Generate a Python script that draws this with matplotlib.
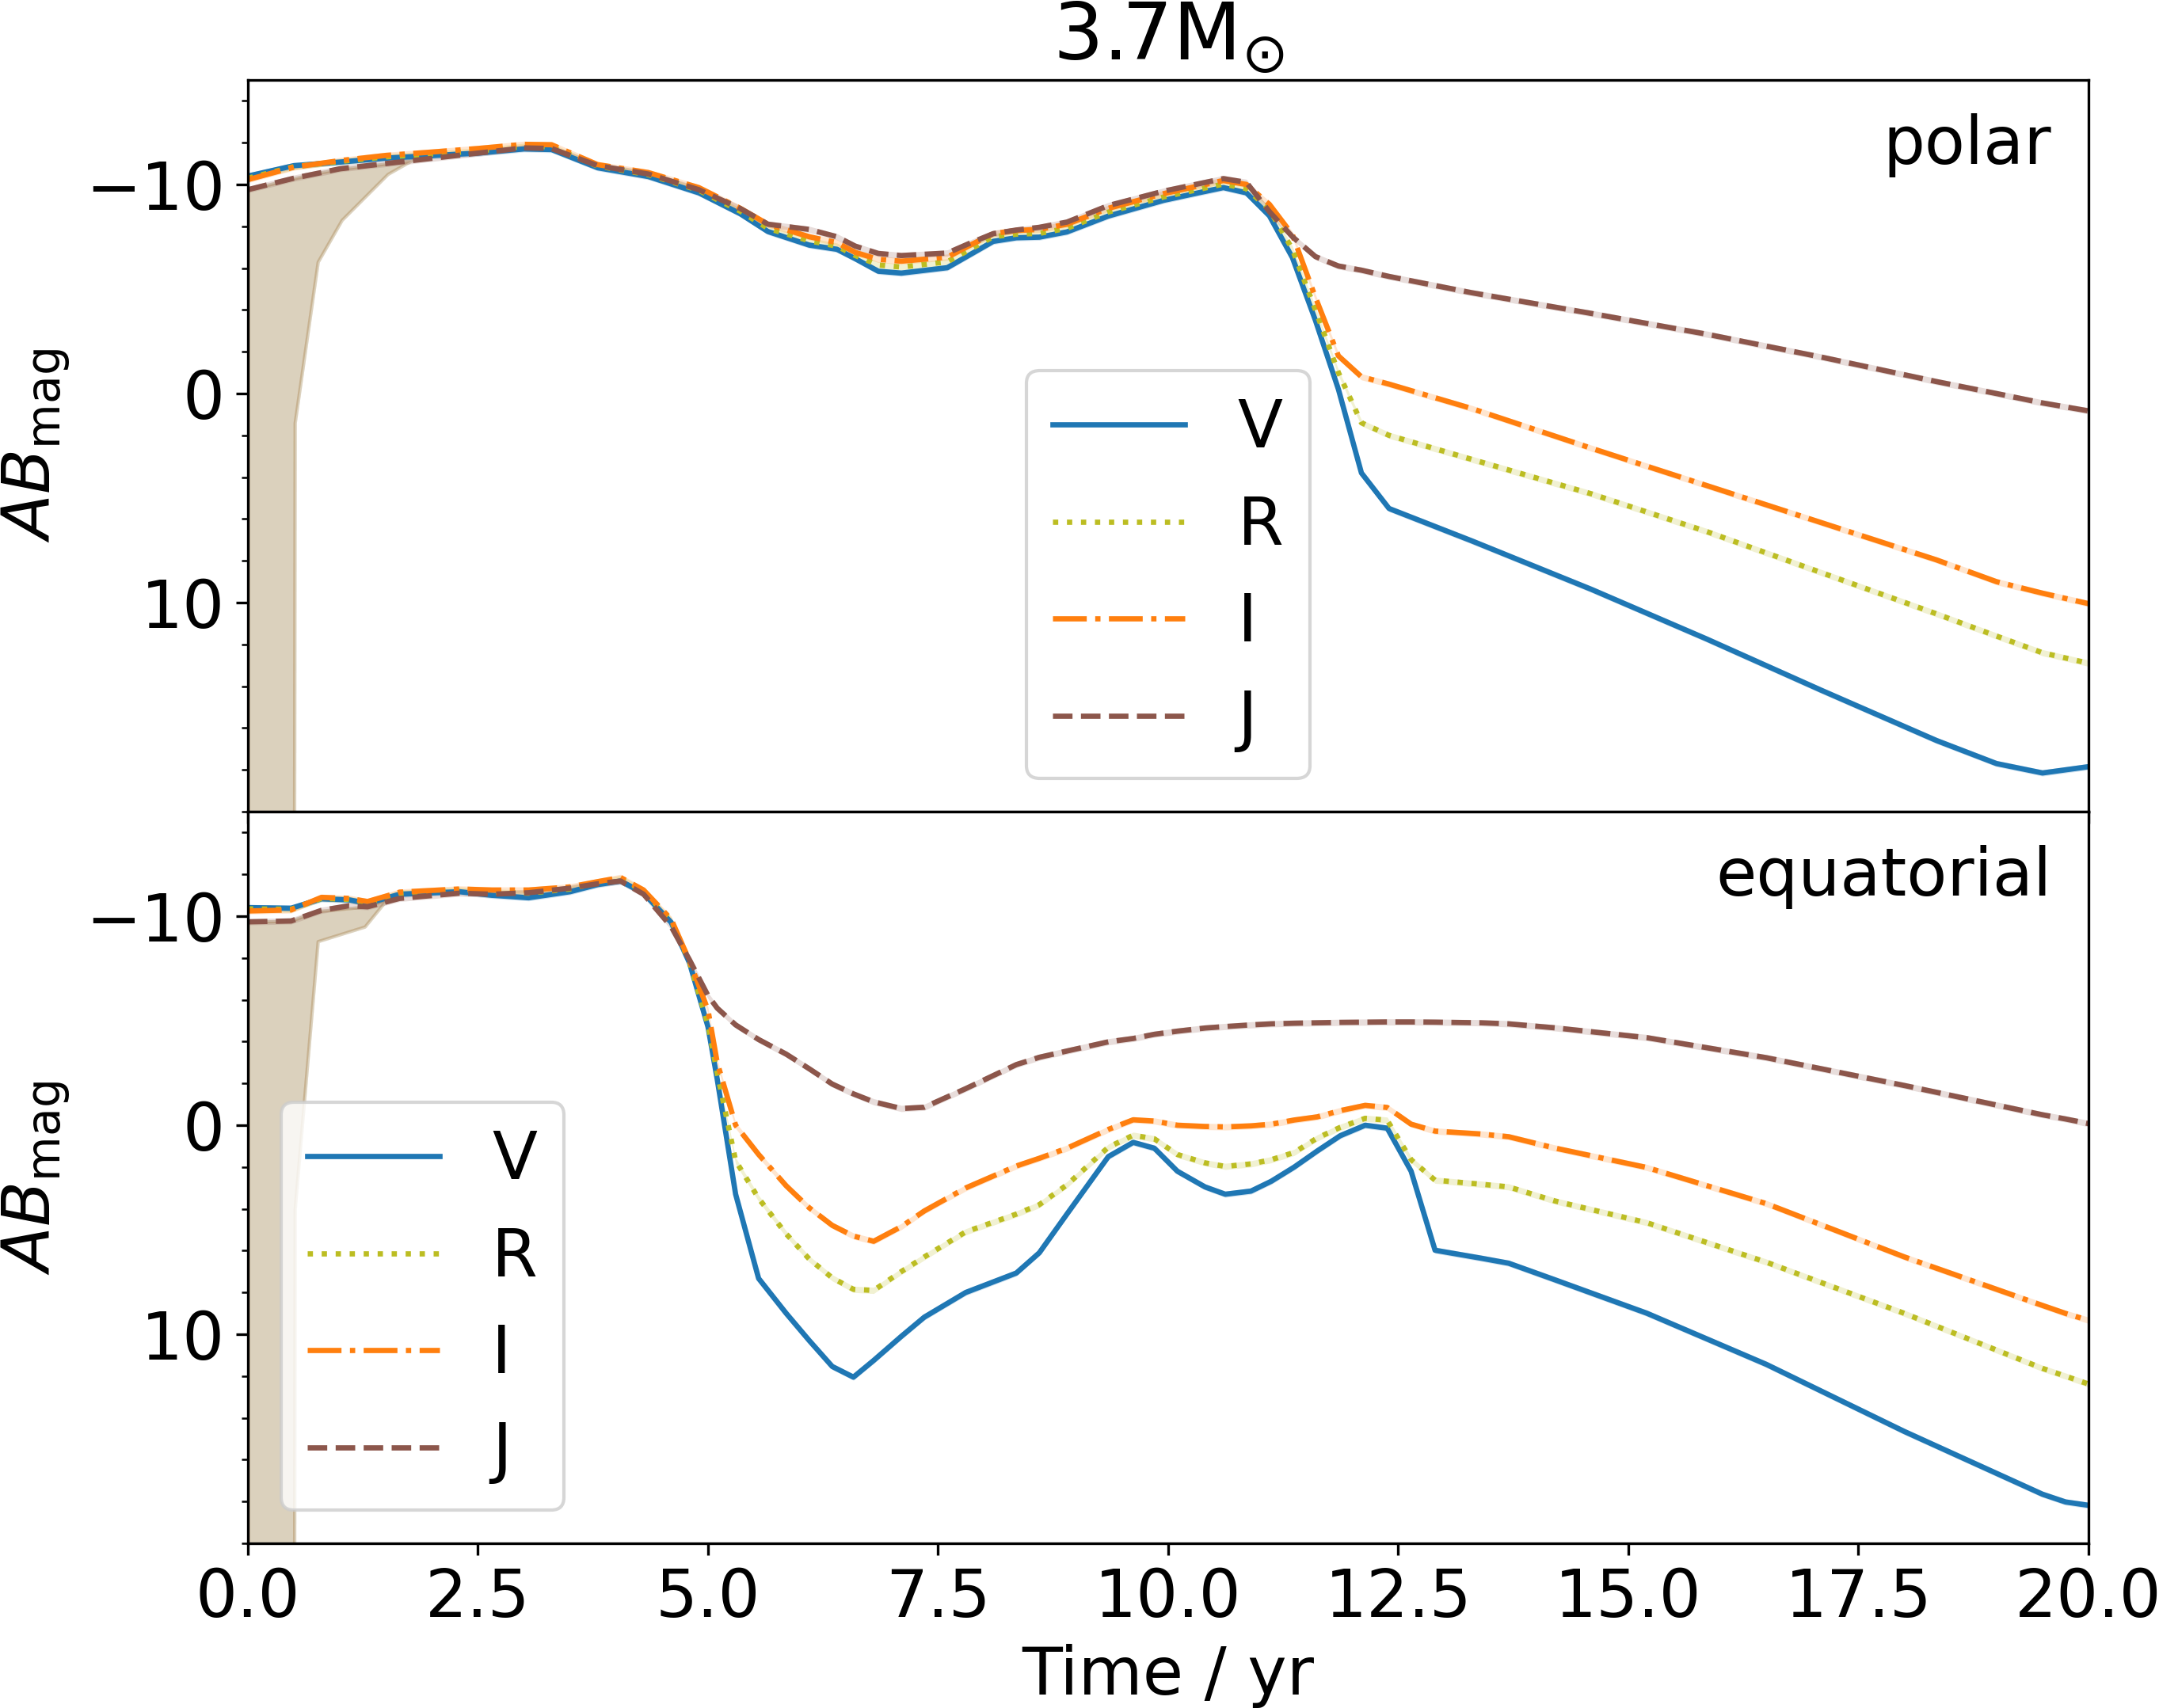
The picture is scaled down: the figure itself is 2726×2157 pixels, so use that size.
import numpy as np
import matplotlib.pyplot as plt
from matplotlib.ticker import MultipleLocator

plt.rcParams['font.size'] = 20

# ----- DANE: POLAR -----
t_pol = [0, 0.5, 1.0, 1.5, 2.0, 2.5, 3.0, 3.3, 3.8, 4.35, 4.9, 5.35, 5.65, 6.1, 6.4,
         6.6, 6.85, 7.1, 7.6, 7.85, 8.1, 8.35, 8.6, 8.9, 9.35, 9.95, 10.35, 10.6,
         10.85, 11.1, 11.35, 11.6, 11.85, 12.1, 12.4, 13.3, 14.6, 15.85, 17.1,
         18.35, 19.0, 19.5, 20.0]
V_pol = [-10.4, -10.9, -11.07, -11.26, -11.38, -11.5, -11.7, -11.67, -10.8, -10.38,
         -9.6, -8.6, -7.75, -7.1, -6.9, -6.45, -5.85, -5.76, -6.02, -6.65, -7.28,
         -7.45, -7.48, -7.73, -8.49, -9.24, -9.62, -9.85, -9.6, -8.5, -6.5, -3.5,
         -0.2, 3.8, 5.5, 7.05, 9.37, 11.74, 14.2, 16.6, 17.7, 18.15, 17.85]
R_pol = [-10.3, -10.85, -11.1, -11.32, -11.45, -11.6, -11.82, -11.8, -10.88, -10.47,
         -9.72, -8.72, -7.9, -7.3, -7.05, -6.6, -6.15, -6.05, -6.3, -6.9, -7.5,
         -7.62, -7.66, -7.9, -8.68, -9.4, -9.78, -10.02, -9.8, -8.8, -6.9, -4.0,
         -1.0, 1.4, 2.0, 3.15, 4.8, 6.6, 8.57, 10.54, 11.6, 12.4, 12.9]
I_pol = [-10.23, -10.83, -11.14, -11.39, -11.55, -11.72, -11.92, -11.9, -10.95, -10.57,
         -9.85, -8.86, -8.1, -7.5, -7.22, -6.75, -6.42, -6.33, -6.52, -7.1, -7.65,
         -7.8, -7.85, -8.1, -8.86, -9.56, -9.95, -10.19, -10.0, -9.05, -7.6, -4.6,
         -1.8, -0.8, -0.45, 0.72, 2.62, 4.4, 6.18, 7.96, 9.0, 9.55, 10.05]
J_pol = [-9.75, -10.3, -10.75, -11.0, -11.25, -11.5, -11.75, -11.72, -10.9, -10.5,
         -9.75, -8.85, -8.1, -7.85, -7.5, -7.05, -6.7, -6.6, -6.72, -7.2, -7.65,
         -7.82, -7.95, -8.2, -8.99, -9.68, -10.05, -10.28, -10.1, -8.7, -7.5, -6.55,
         -6.1, -5.9, -5.6, -4.82, -3.83, -2.84, -1.74, -0.57, 0.0, 0.45, 0.83]

# duzy blad na poczatku (polar)
eb_t_pol = [0, 0.49, 0.51, 0.76, 1.02, 1.52, 1.78]
eb_top_pol = [-9.75, -10.28, -10.3, -10.55, -10.75, -11.0, -11.15]
eb_bot_pol = [60, 60, 1.4, -6.3, -8.3, -10.5, -11.15]

# ----- DANE: EQUATORIAL -----
t_eq = [0, 0.47, 0.8, 1.1, 1.3, 1.65, 2.3, 2.65, 3.05, 3.5, 3.8, 4.05, 4.3, 4.6, 4.8,
        5.0, 5.1, 5.3, 5.55, 5.85, 6.1, 6.35, 6.58, 6.8, 7.1, 7.35, 7.8, 8.35, 8.6,
        8.9, 9.35, 9.62, 9.85, 10.1, 10.4, 10.62, 10.9, 11.12, 11.37, 11.62, 11.87,
        12.14, 12.38, 12.64, 12.9, 13.4, 13.7, 14.2, 15.2, 16.5, 18.0, 19.5, 19.75, 20.0]
V_eq = [-10.41, -10.38, -10.83, -10.78, -10.61, -11.05, -11.17, -11.0, -10.88, -11.17,
        -11.51, -11.68, -11.1, -9.7, -7.75, -4.7, -2.2, 3.3, 7.33, 9.0, 10.3, 11.54,
        12.05, 11.25, 10.1, 9.18, 8.0, 7.07, 6.1, 4.25, 1.5, 0.82, 1.1, 2.2, 2.95, 3.3,
        3.15, 2.68, 2.0, 1.23, 0.5, 0.0, 0.14, 2.2, 5.98, 6.36, 6.6, 7.39, 8.99, 11.44,
        14.65, 17.65, 18.02, 18.18]
R_eq = [-10.35, -10.33, -10.85, -10.8, -10.65, -11.1, -11.25, -11.15, -11.1, -11.3,
        -11.6, -11.8, -11.2, -9.8, -7.8, -4.8, -2.5, 1.7, 3.5, 5.2, 6.4, 7.3, 7.85, 7.9,
        7.0, 6.3, 5.1, 4.25, 3.8, 2.85, 1.05, 0.48, 0.65, 1.4, 1.8, 1.97, 1.85, 1.65,
        1.3, 0.61, 0.1, -0.33, -0.24, 1.65, 2.63, 2.82, 2.95, 3.62, 4.66, 6.55, 9.0,
        11.63, 12.0, 12.38]
I_eq = [-10.25, -10.3, -10.9, -10.85, -10.7, -11.15, -11.3, -11.25, -11.25, -11.4,
        -11.65, -11.85, -11.25, -9.85, -7.85, -5.5, -3.0, 0.0, 1.4, 2.9, 3.95, 4.79,
        5.3, 5.55, 4.85, 4.1, 3.0, 1.95, 1.58, 1.1, 0.2, -0.26, -0.2, 0.0, 0.06, 0.08,
        0.03, -0.05, -0.25, -0.4, -0.7, -0.95, -0.85, -0.05, 0.28, 0.42, 0.55, 1.09,
        2.02, 3.75, 6.3, 8.62, 9.0, 9.33]
J_eq = [-9.73, -9.77, -10.28, -10.5, -10.45, -10.85, -11.1, -11.05, -11.12, -11.34,
        -11.55, -11.68, -11.05, -9.5, -7.9, -6.2, -5.6, -4.8, -4.1, -3.4, -2.7, -1.97,
        -1.5, -1.12, -0.8, -0.86, -1.75, -2.9, -3.25, -3.55, -3.99, -4.15, -4.35, -4.5,
        -4.65, -4.72, -4.8, -4.85, -4.88, -4.9, -4.92, -4.93, -4.94, -4.94, -4.93, -4.9,
        -4.85, -4.66, -4.19, -3.23, -1.9, -0.5, -0.3, -0.08]

# duzy blad na poczatku (equatorial)
eb_t_eq = [0, 0.47, 0.49, 0.51, 0.76, 1.27, 1.51]
eb_top_eq = [-9.73, -9.77, -9.8, -9.85, -10.24, -10.45, -10.8]
eb_bot_eq = [60, 60, 60, 4.0, -8.8, -9.5, -10.8]

bands = ['V', 'R', 'I', 'J']
colors = ['C0', 'C8', 'C1', 'C5']
styles = ['-', ':', '-.', '--']

# ----- RYSOWANIE WYKRESU -----
fig, (ax1, ax2) = plt.subplots(2, 1, sharex=True, figsize=(9.087, 7.19), dpi=300)
fig.subplots_adjust(left=0.1148, right=0.9673, top=0.9532, bottom=0.0964, hspace=0)

panels = [
    (ax1, t_pol, [V_pol, R_pol, I_pol, J_pol], eb_t_pol, eb_top_pol, eb_bot_pol, 'polar', 'lower center'),
    (ax2, t_eq, [V_eq, R_eq, I_eq, J_eq], eb_t_eq, eb_top_eq, eb_bot_eq, 'equatorial', 'lower left'),
]

for ax, t, mags, eb_t, eb_top, eb_bot, name, loc in panels:
    t = np.array(t)
    for m, c, ls, lab in zip(mags, colors, styles, bands):
        m = np.array(m)
        ax.fill_between(eb_t, eb_top, eb_bot, color=c, alpha=0.1)
        ax.fill_between(t, m - 0.15, m + 0.15, color=c, alpha=0.2, lw=0)
        ax.plot(t, m, color=c, ls=ls, lw=1.6, label=lab)
    ax.set_xlim(0, 20)
    ax.set_ylim(20, -15)
    ax.set_yticks([-10, 0, 10])
    ax.yaxis.set_minor_locator(MultipleLocator(2))
    ax.set_ylabel(r'$AB_{\rm mag}$')
    ax.text(0.98, 0.955, name, ha='right', va='top', transform=ax.transAxes)
    ax.legend(loc=loc)

ax2.set_xticks(np.arange(0, 20.1, 2.5))
ax2.set_xlabel('Time / yr')
ax1.set_title(r'3.7M$_{\odot}$', fontsize=24)

plt.savefig('out.png', dpi=300)
